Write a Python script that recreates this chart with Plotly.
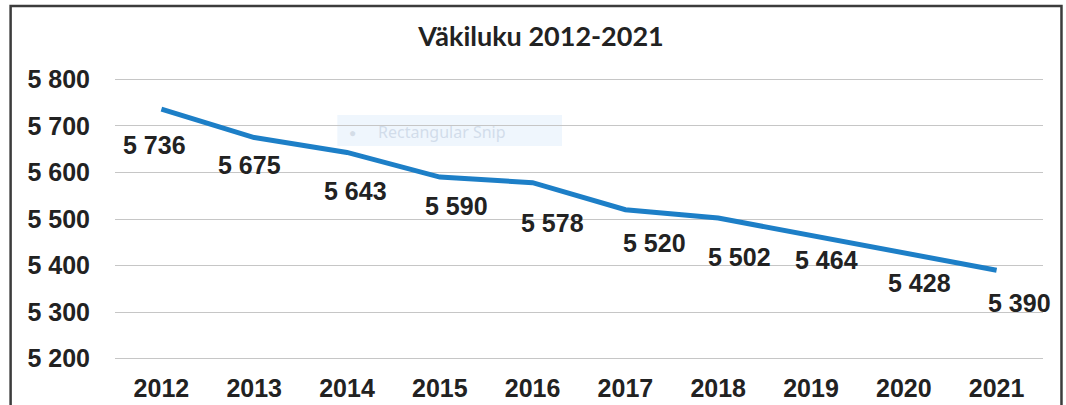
import plotly.graph_objects as go

years = ["2012", "2013", "2014", "2015", "2016", "2017", "2018", "2019", "2020", "2021"]
population = [5736, 5675, 5643, 5590, 5578, 5520, 5502, 5464, 5428, 5390]
value_labels = ["5 736", "5 675", "5 643", "5 590", "5 578", "5 520", "5 502", "5 464", "5 428", "5 390"]
y_ticks = [5200, 5300, 5400, 5500, 5600, 5700, 5800]
y_tick_text = ["5 200", "5 300", "5 400", "5 500", "5 600", "5 700", "5 800"]
title_text = "Väkiluku 2012-2021"

# label offsets in pixels (dx right, dy down) – manual placement as in the original
label_dx = [-7, -5, 8, 17, 20, 29, 21, 15, 16, 23]
label_dy = [36, 27, 39, 29, 40, 33, 39, 24, 30, 33]

W, H = 1066, 405
ML, MR, MT, MB = 114.5, 22.5, 77.0, 44.3
PW, PH = W - ML - MR, H - MT - MB

def px_to_paper_x(px):
    return (px - ML) / PW

def px_to_paper_y(py):
    return (H - MB - py) / PH

TXT = "#222222"
BOLD = "Liberation Sans, Arial, sans-serif"
FS = 25

fig = go.Figure()
fig.add_trace(go.Scatter(
    x=years, y=population, mode="lines",
    line=dict(color="#1d7fc7", width=5),
    hoverinfo="skip", showlegend=False,
))

for i, (v, t, dx, dy) in enumerate(zip(population, value_labels, label_dx, label_dy)):
    fig.add_annotation(
        x=i, y=v, text=f"<b>{t}</b>", showarrow=False,
        xanchor="center", yanchor="middle", xshift=dx, yshift=-dy,
        font=dict(family=BOLD, size=FS, color=TXT),
    )

# faint screenshot-tool artifact present in the scan
fig.add_shape(type="rect", xref="paper", yref="paper",
              x0=px_to_paper_x(337), x1=px_to_paper_x(562),
              y0=px_to_paper_y(146), y1=px_to_paper_y(115),
              fillcolor="rgba(225,238,252,0.55)", line=dict(width=0), layer="below")
fig.add_annotation(xref="paper", yref="paper",
                   x=px_to_paper_x(352), y=px_to_paper_y(132),
                   text="●", showarrow=False, xanchor="center", yanchor="middle",
                   font=dict(family="Noto Sans", size=12, color="rgba(200,210,222,0.7)"))
fig.add_annotation(xref="paper", yref="paper",
                   x=px_to_paper_x(376), y=px_to_paper_y(132),
                   text="Rectangular Snip", showarrow=False, xanchor="left", yanchor="middle",
                   font=dict(family="Noto Sans", size=16, color="rgba(200,212,228,0.75)"))

# chart border (scan of an Excel chart frame)
fig.add_shape(type="rect", xref="paper", yref="paper",
              x0=px_to_paper_x(10), x1=px_to_paper_x(1062),
              y0=px_to_paper_y(420), y1=px_to_paper_y(6),
              line=dict(color="#3c3c3c", width=2.5), fillcolor="rgba(0,0,0,0)")

fig.update_layout(
    width=W, height=H,
    margin=dict(l=ML, r=MR, t=MT, b=MB, pad=0, autoexpand=False),
    paper_bgcolor="white", plot_bgcolor="white",
    title=dict(text=f"<b>{title_text}</b>", x=541 / W, y=1 - 37 / H,
               xanchor="center", yanchor="middle",
               font=dict(family="Lato, Calibri, sans-serif", size=27, color=TXT)),
    xaxis=dict(type="category", showgrid=False, zeroline=False, showline=False,
               ticks="", tickfont=dict(family=BOLD, size=FS, color=TXT),
               tickvals=years, ticktext=[f"<b>{y}</b>" for y in years],
               ticklabelstandoff=10, range=[-0.5, 9.5], automargin=False),
    yaxis=dict(range=[5195, 5805], tickvals=y_ticks,
               ticktext=[f"<b>{t}</b>" for t in y_tick_text],
               showgrid=True, gridcolor="#c6c6c6", gridwidth=1,
               zeroline=False, showline=False, ticks="",
               tickfont=dict(family=BOLD, size=FS, color=TXT),
               ticklabelstandoff=24, automargin=False),
)

fig.write_html("out.html", config={"displayModeBar": False},
               post_script="document.body.style.margin='0';document.body.style.padding='0';")
